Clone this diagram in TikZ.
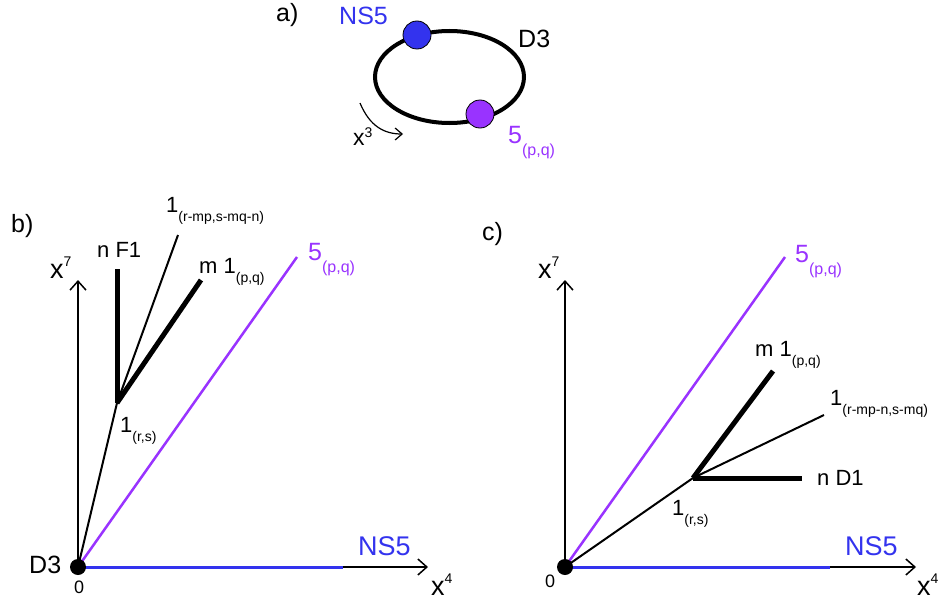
\documentclass[tikz,border=0pt]{standalone}
\usepackage{fontspec}
\setmainfont{Liberation Sans}
\usetikzlibrary{arrows.meta}
\definecolor{nsblue}{RGB}{51,51,238}
\definecolor{pqpurple}{RGB}{153,51,255}
\newcommand{\lo}[1]{\raisebox{-12pt}{\fontsize{16}{18}\selectfont #1}}
\newcommand{\losm}[1]{\raisebox{-9pt}{\fontsize{14}{16}\selectfont #1}}
\newcommand{\hi}[2][12pt]{\raisebox{#1}{\fontsize{14}{16}\selectfont #2}}

\begin{document}
\begin{tikzpicture}[x=1pt,y=-1pt,
  axis/.style={line width=1.5pt,-{Straight Barb[length=9pt,width=16pt]}},
  strand/.style={line width=2pt},
  bundle/.style={line width=5pt},
  nsline/.style={nsblue,line width=3pt},
  pqline/.style={pqpurple,line width=2.5pt},
  txt/.style={inner sep=0pt,anchor=base west,font=\fontsize{25}{28}\selectfont},
  smtxt/.style={txt,font=\fontsize{22}{25}\selectfont},
  axtxt/.style={txt,font=\fontsize{27}{30}\selectfont}]
\useasboundingbox (0,0) rectangle (942,602);

% a) D3 on a circle with two fivebranes
\node[txt] (la) at (276,22) {a)};
\draw[line width=4pt] (449.5,77) ellipse [x radius=74.5,y radius=46];
\fill[nsblue,draw=black,line width=0.8pt] (417,35) circle (14);
\fill[pqpurple,draw=black,line width=0.8pt] (480,114) circle (14);
\node[txt,nsblue] (ansfive) at (339,25) {NS5};
\node[txt] (adthree) at (518,48) {D3};
\node[txt,pqpurple] (afive) at (508,143) {5\lo{(p,q)}};
\node[txt,font=\fontsize{23}{26}\selectfont] (axthree) at (353,145) {x\hi[8pt]{3}};
\coordinate (cs) at (360,103);
\coordinate (ce) at (403,134);
\draw[line width=1.2pt,-{Straight Barb[length=7pt,width=12pt]}]
  (cs) .. controls (370,127) and (385,134) .. (ce);

% b) F1 branching
\node[txt] (lb) at (11,232) {b)};
\coordinate (bo) at (78,567);
\coordinate (bup) at (78,280);
\coordinate (bright) at (428,567);
\coordinate (bns) at (343,567);
\coordinate (bfive) at (297,257);
\coordinate (bv) at (117,403);
\coordinate (bf) at (117,269);
\coordinate (bmix) at (178,235);
\coordinate (bpq) at (201,280);
\draw[axis] (bo) -- (bup);
\draw[axis] (bo) -- (bright);
\draw[nsline] (bo) -- (bns);
\draw[pqline] (bo) -- (bfive);
\draw[strand] (bo) -- (bv);
\draw[bundle] (bv) -- (bf);
\draw[strand] (bv) -- (bmix);
\draw[bundle] (bv) -- (bpq);
\fill (bo) circle (8);
\node[axtxt] (bxseven) at (50,278) {x\hi{7}};
\node[axtxt] (bxfour) at (431,595) {x\hi{4}};
\node[txt] (bdthree) at (29,573) {D3};
\node[txt,font=\fontsize{18}{20}\selectfont] (bzero) at (74,593) {0};
\node[txt,nsblue,font=\fontsize{27}{30}\selectfont] (bnsfive) at (358,555) {NS5};
\node[txt,pqpurple] (bfivelbl) at (308,260) {5\lo{(p,q)}};
\node[smtxt] (bflbl) at (97,257) {n F1};
\node[smtxt] (bmixlbl) at (166,212) {1\losm{(r-mp,s-mq-n)}};
\node[smtxt] (bpqlbl) at (199,273) {m 1\losm{(p,q)}};
\node[smtxt] (brslbl) at (120,432) {1\losm{(r,s)}};

% c) D1 branching
\node[txt] (lc) at (482,240) {c)};
\coordinate (co) at (565,567);
\coordinate (cup) at (565,280);
\coordinate (cright) at (916,567);
\coordinate (cns) at (830,567);
\coordinate (cfive) at (785,257);
\coordinate (cv) at (693,478);
\coordinate (cpq) at (773,371);
\coordinate (cmix) at (824,415);
\coordinate (cd) at (802,478);
\draw[axis] (co) -- (cup);
\draw[axis] (co) -- (cright);
\draw[nsline] (co) -- (cns);
\draw[pqline] (co) -- (cfive);
\draw[strand] (co) -- (cv);
\draw[bundle] (cv) -- (cpq);
\draw[strand] (cv) -- (cmix);
\draw[bundle] (cv) -- (cd);
\fill (co) circle (8);
\node[axtxt] (cxseven) at (538,278) {x\hi{7}};
\node[axtxt] (cxfour) at (917,595) {x\hi{4}};
\node[txt,font=\fontsize{18}{20}\selectfont] (czero) at (545,587) {0};
\node[txt,nsblue,font=\fontsize{27}{30}\selectfont] (cnsfive) at (845,555) {NS5};
\node[txt,pqpurple] (cfivelbl) at (795,262) {5\lo{(p,q)}};
\node[smtxt] (cpqlbl) at (755,356) {m 1\losm{(p,q)}};
\node[smtxt] (cmixlbl) at (830,405) {1\losm{(r-mp-n,s-mq)}};
\node[smtxt] (cdlbl) at (817,485) {n D1};
\node[smtxt] (crslbl) at (672,515) {1\losm{(r,s)}};
\end{tikzpicture}
\end{document}
